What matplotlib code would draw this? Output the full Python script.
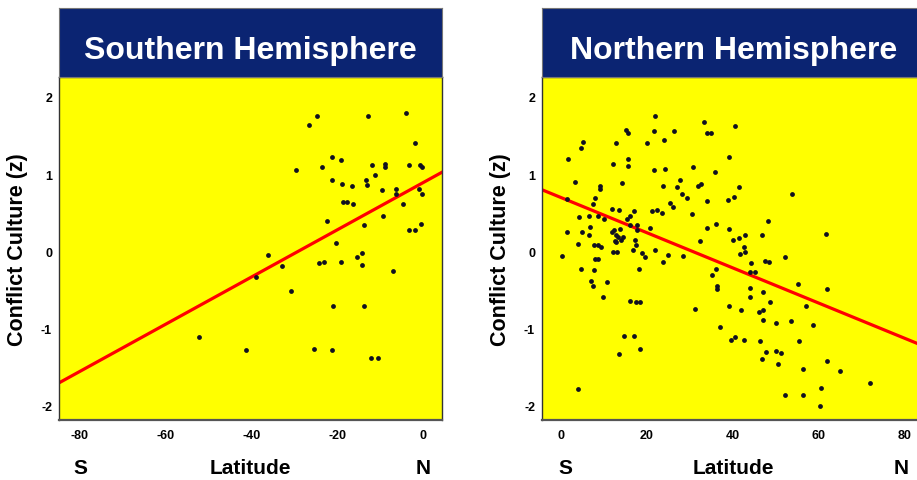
import numpy as np
import matplotlib.pyplot as plt
import matplotlib.transforms as mtransforms

plt.rcParams['font.family'] = ['Liberation Sans', 'DejaVu Sans']
plt.rcParams['font.weight'] = 'bold'
plt.rcParams['axes.unicode_minus'] = False  # plain hyphen on tick labels

# Southern hemisphere: latitude and conflict culture (z)
south_lat = [-24.7, -26.5, -12.8, -4.0, -1.9, -29.6, -21.2, -19.1, -23.5, -11.8,
             -8.9, -8.8, -3.3, -0.7, -0.1, -11.1, -21.2, -13.2, -13.1, -18.8,
             -16.6, -9.6, -6.2, -6.2, -0.8, -0.2, -18.6, -17.6, -16.2, -4.7,
             -9.2, -22.3, -13.7, -3.3, -1.7, -0.4, -20.3, -36.0, -14.2, -15.3,
             -24.1, -23.0, -19.0, -14.2, -32.8, -7.0, -38.8, -30.7, -20.9, -13.7,
             -52.2, -41.2, -25.4, -21.1, -12.1, -10.4]
south_cc = [1.77, 1.65, 1.77, 1.80, 1.42, 1.06, 1.24, 1.20, 1.11, 1.13,
            1.15, 1.10, 1.13, 1.13, 1.11, 1.00, 0.94, 0.94, 0.87, 0.88,
            0.86, 0.81, 0.82, 0.76, 0.82, 0.76, 0.65, 0.65, 0.62, 0.63,
            0.47, 0.41, 0.36, 0.29, 0.29, 0.37, 0.12, -0.03, -0.01, -0.06,
            -0.14, -0.12, -0.13, -0.16, -0.18, -0.24, -0.32, -0.50, -0.70, -0.70,
            -1.10, -1.27, -1.25, -1.27, -1.37, -1.37]

# Northern hemisphere
north_lat = [21.9, 33.3, 40.4, 15.2, 15.5, 21.6, 26.4, 34.0, 34.9, 24.0,
             5.2, 4.6, 12.9, 19.9, 39.0, 1.7, 15.5, 15.7, 12.2, 21.6,
             24.3, 30.6, 35.9, 3.3, 14.1, 9.1, 9.2, 23.8, 26.9, 31.9,
             32.6, 41.5, 27.6, 28.1, 29.4, 8.0, 40.2, 38.9, 1.4, 34.0,
             7.4, 25.4, 26.0, 11.9, 13.5, 53.7, 21.2, 22.3, 23.6, 30.5,
             17.1, 16.0, 4.3, 6.5, 8.6, 9.9, 15.3, 6.7, 1.5, 4.9,
             6.5, 11.9, 12.4, 12.9, 13.2, 12.6, 12.9, 13.9, 14.5, 13.8,
             16.0, 17.7, 17.8, 17.3, 17.4, 16.8, 18.8, 19.5, 20.7, 21.8,
             4.0, 7.6, 8.6, 9.4, 12.2, 13.0, 0.2, 7.9, 8.6, 34.0,
             36.0, 39.0, 42.7, 41.3, 40.1, 42.5, 42.8, 41.6, 32.4, 25.0,
             28.4, 44.1, 46.7, 48.1, 61.6, 52.0, 47.4, 48.4, 23.8,
             4.7, 7.6, 18.1, 7.1, 10.8, 7.5, 9.8, 16.0, 17.4, 18.5,
             14.7, 17.1, 18.3, 13.5, 4.0, 36.0, 35.2, 43.9, 45.2, 36.2,
             36.2, 44.0, 44.0, 31.1, 39.1, 41.9, 46.1, 37.1, 40.5, 39.5,
             42.6, 46.2, 46.7, 55.2, 61.9, 47.1, 48.7, 47.1, 56.9, 47.1,
             49.9, 53.5, 58.7, 55.4, 47.6, 49.9, 51.2, 50.5, 61.9, 56.2,
             65.0, 71.8, 60.5, 52.2, 56.3, 60.2]
north_cc = [1.76, 1.69, 1.63, 1.58, 1.55, 1.57, 1.57, 1.54, 1.55, 1.46,
            1.43, 1.35, 1.41, 1.41, 1.23, 1.21, 1.21, 1.12, 1.14, 1.07,
            1.08, 1.10, 1.04, 0.91, 0.90, 0.86, 0.82, 0.86, 0.85, 0.86,
            0.89, 0.85, 0.94, 0.76, 0.71, 0.71, 0.72, 0.68, 0.69, 0.66,
            0.62, 0.64, 0.59, 0.56, 0.55, 0.75, 0.53, 0.55, 0.51, 0.50,
            0.53, 0.47, 0.46, 0.47, 0.47, 0.43, 0.43, 0.33, 0.26, 0.26,
            0.23, 0.26, 0.29, 0.23, 0.20, 0.15, 0.13, 0.16, 0.20, 0.30,
            0.36, 0.35, 0.29, 0.16, 0.10, 0.03, -0.01, -0.06, 0.31, 0.03,
            0.11, 0.09, 0.10, 0.07, 0.01, 0.00, -0.05, -0.08, -0.09, 0.32,
            0.37, 0.30, 0.23, 0.19, 0.16, 0.07, 0.01, -0.02, 0.15, -0.04,
            -0.05, -0.14, 0.23, 0.41, 0.24, -0.06, -0.11, -0.13, -0.13,
            -0.21, -0.23, -0.21, -0.37, -0.39, -0.44, -0.58, -0.63, -0.64, -0.64,
            -1.08, -1.08, -1.25, -1.31, -1.77, -0.22, -0.29, -0.25, -0.25, -0.43,
            -0.47, -0.46, -0.58, -0.73, -0.69, -0.75, -0.77, -0.97, -1.10, -1.14,
            -1.13, -1.15, -1.38, -0.41, -0.47, -0.51, -0.64, -0.74, -0.69, -0.88,
            -0.92, -0.89, -0.94, -1.15, -1.29, -1.28, -1.30, -1.44, -1.41, -1.51,
            -1.54, -1.69, -1.75, -1.84, -1.85, -1.99]

# fitted lines (intercept at latitude 0, slope per degree)
south_fit = (0.90, 0.0305)
north_fit = (0.71, -0.0228)

south_ticks = [-80, -60, -40, -20, 0]
north_ticks = [0, 20, 40, 60, 80]
y_ticks = [-2, -1, 0, 1, 2]

W, H = 917, 480
fig = plt.figure(figsize=(W / 100, H / 100), dpi=100)


def panel(x0, x1, xlim, lat, cc, fit, ticks, title, s_x, n_x):
    """Draw one hemisphere panel: header bar, yellow scatter area, labels."""
    # plot area (pixel coords converted to figure fractions)
    ax = fig.add_axes([x0 / W, 1 - 420 / H, (x1 - x0) / W, 343 / H])
    ax.set_facecolor('#ffff00')
    ax.scatter(lat, cc, s=12, color='#101020', zorder=3, linewidths=0)
    ax.axline((0, fit[0]), slope=fit[1], color='#ff0000', lw=2.3, zorder=2)
    ax.set_xlim(*xlim)
    ax.set_ylim(-2.17, 2.27)
    ax.set_xticks(ticks)
    ax.set_yticks(y_ticks)
    ax.tick_params(length=0, labelsize=9)
    ax.tick_params(axis='x', pad=7)
    ax.tick_params(axis='y', pad=5)
    for sp in ax.spines.values():
        sp.set_color('#333333')
        sp.set_linewidth(1.0)
    ax.spines['bottom'].set_color('#555555')
    ax.spines['bottom'].set_linewidth(1.6)

    # y label, placed by hand left of the tick labels
    fig.text((x0 - 41) / W, 1 - 250 / H, 'Conflict Culture (z)', rotation=90,
             fontsize=15.5, fontweight='bold', ha='center', va='center')

    # header bar
    hd = fig.add_axes([x0 / W, 1 - 77 / H, (x1 - x0) / W, 69 / H])
    hd.set_facecolor('#0b2472')
    hd.set_xticks([])
    hd.set_yticks([])
    for sp in hd.spines.values():
        sp.set_color('#777777')
        sp.set_linewidth(0.8)
    hd.text(0.5, 0.26, title, color='white', fontsize=23, fontweight='bold',
            ha='center', va='baseline', transform=hd.transAxes)

    # S / Latitude / N under the axis
    tr = mtransforms.blended_transform_factory(ax.transData, fig.transFigure)
    yb = 1 - 468 / H
    ax.text(s_x, yb, 'S', fontsize=15, fontweight='bold', ha='center', va='center', transform=tr)
    ax.text(n_x, yb, 'N', fontsize=15, fontweight='bold', ha='center', va='center', transform=tr)
    fig.text((x0 + x1) / 2 / W, yb, 'Latitude', fontsize=15, fontweight='bold',
             ha='center', va='center')
    return ax


panel(59, 442, (-84.9, 4.5), south_lat, south_cc, south_fit, south_ticks,
      'Southern Hemisphere', -80, 0)
panel(542, 925, (-4.4, 84.65), north_lat, north_cc, north_fit, north_ticks,
      'Northern Hemisphere', 1, 79)

fig.savefig('out.png', dpi=100)
